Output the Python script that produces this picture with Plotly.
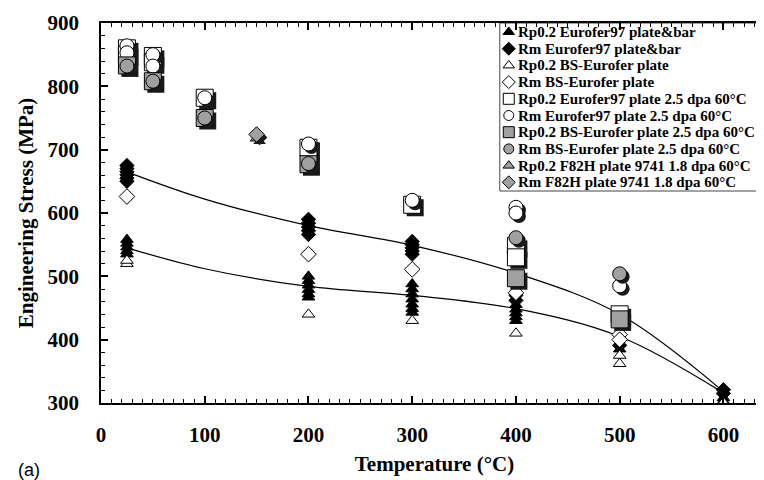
import plotly.graph_objects as go

# Rp0.2 / Rm, Eurofer97 plate&bar (unirradiated)
rp_ef97_t = [25, 25, 25, 25, 25, 200, 200, 200, 200, 200, 200,
             300, 300, 300, 300, 300, 300, 300, 400, 400, 400, 400, 400,
             500, 600, 600]
rp_ef97_s = [558, 552, 546, 540, 535, 500, 493, 486, 479, 472, 467,
             488, 480, 472, 464, 456, 449, 443, 455, 448, 442, 436, 430,
             385, 308, 303]
rm_ef97_t = [25, 25, 25, 25, 25, 25, 200, 200, 200, 200, 200,
             300, 300, 300, 300, 300, 400, 400, 500, 600, 600]
rm_ef97_s = [675, 670, 665, 660, 655, 650, 590, 584, 578, 572, 566,
             555, 550, 545, 540, 535, 470, 462, 391, 321, 315]

# BS-Eurofer plate (unirradiated)
rp_bs_t = [25, 25, 200, 300, 400, 500, 500, 600]
rp_bs_s = [520, 525, 440, 430, 410, 375, 362, 301]
rm_bs_t = [25, 200, 300, 400, 500, 500]
rm_bs_s = [626, 535, 511, 474, 408, 400]

# irradiated 2.5 dpa 60°C
rp_ef97_irr_t = [25, 25, 50, 50, 100, 200, 300, 400, 400, 500]
rp_ef97_irr_s = [860, 850, 848, 838, 782, 703, 613, 548, 530, 440]
rm_ef97_irr_t = [25, 25, 50, 50, 100, 200, 300, 400, 400, 500]
rm_ef97_irr_s = [864, 853, 850, 832, 782, 709, 620, 609, 600, 485]
rp_bs_irr_t = [25, 50, 100, 200, 400, 500]
rp_bs_irr_s = [833, 808, 750, 677, 497, 432]
rm_bs_irr_t = [25, 50, 100, 200, 400, 500]
rm_bs_irr_s = [832, 808, 750, 678, 561, 504]

# F82H plate 9741 1.8 dpa 60°C
rp_f82h_t = [150]
rp_f82h_s = [718]
rm_f82h_t = [150]
rm_f82h_s = [724]

# trend lines
trend_t = [25, 100, 200, 300, 400, 500, 600]
trend_rm = [665, 622, 580, 549, 505, 440, 318]
trend_rp = [545, 512, 484, 470, 449, 405, 316]

GRAY = "#a0a0a0"
SERIF = "Liberation Serif"

# name, x, y, symbol, fill, size, drop shadow
series = [
    ("Rp0.2 Eurofer97 plate&bar", rp_ef97_t, rp_ef97_s, "triangle-up", "black", 11, False),
    ("Rm Eurofer97 plate&bar", rm_ef97_t, rm_ef97_s, "diamond", "black", 11, False),
    ("Rp0.2 BS-Eurofer plate", rp_bs_t, rp_bs_s, "triangle-up", "white", 11, False),
    ("Rm BS-Eurofer plate", rm_bs_t, rm_bs_s, "diamond", "white", 12, False),
    ("Rp0.2 Eurofer97 plate 2.5 dpa 60°C", rp_ef97_irr_t, rp_ef97_irr_s, "square", "white", 17, True),
    ("Rm Eurofer97 plate 2.5 dpa 60°C", rm_ef97_irr_t, rm_ef97_irr_s, "circle", "white", 14, True),
    ("Rp0.2 BS-Eurofer plate 2.5 dpa 60°C", rp_bs_irr_t, rp_bs_irr_s, "square", GRAY, 17, True),
    ("Rm BS-Eurofer plate 2.5 dpa 60°C", rm_bs_irr_t, rm_bs_irr_s, "circle", GRAY, 14, True),
    ("Rp0.2 F82H plate 9741 1.8 dpa 60°C", rp_f82h_t, rp_f82h_s, "triangle-up", GRAY, 11, True),
    ("Rm F82H plate 9741 1.8 dpa 60°C", rm_f82h_t, rm_f82h_s, "diamond", GRAY, 12, True),
]

# plot area in pixels (for placing the hand-made legend box)
L, R, T, B = 93, 2, 15, 85
W, H = 764, 480
pw, ph = W - L - R, H - T - B
X_RANGE = [0, 643]
Y_RANGE = [300, 900]
# drop shadow offset: about 3 px right and down, in data units
SH_DX = 3 * (X_RANGE[1] - X_RANGE[0]) / pw
SH_DY = 3 * (Y_RANGE[1] - Y_RANGE[0]) / ph


def px(x):
    return (x - L) / pw


def py(y):
    return 1 - (y - T) / ph


fig = go.Figure()

for ys in (trend_rm, trend_rp):
    fig.add_trace(go.Scatter(
        x=trend_t, y=ys, mode="lines", showlegend=False,
        line=dict(color="black", width=1.2, shape="spline", smoothing=1),
        hoverinfo="skip",
    ))

for name, t, s, sym, fill, size, shadow in series:
    if shadow:
        fig.add_trace(go.Scatter(
            x=[v + SH_DX for v in t], y=[v - SH_DY for v in s], mode="markers",
            showlegend=False, hoverinfo="skip",
            marker=dict(symbol=sym, color="#1a1a1a", size=size, line=dict(width=0)),
        ))
    fig.add_trace(go.Scatter(
        x=t, y=s, mode="markers", name=name, showlegend=False,
        marker=dict(symbol=sym, color=fill, size=size,
                    line=dict(color="black", width=1)),
    ))

# legend: box, symbols on an overlay axis in paper fractions, text as annotations
leg_left, leg_right, leg_top, leg_bottom = 493, 752, 15, 183
row0, row_step = 24, 16.7
fig.add_shape(type="rect", xref="paper", yref="paper",
              x0=px(leg_left), x1=px(leg_right), y0=py(leg_bottom), y1=py(leg_top),
              line=dict(color="#444444", width=1), fillcolor="white", layer="below")
for i, (name, t, s, sym, fill, size, shadow) in enumerate(series):
    yy = py(row0 + i * row_step)
    fig.add_trace(go.Scatter(
        x=[px(502)], y=[yy], xaxis="x2", yaxis="y2", mode="markers",
        showlegend=False, cliponaxis=False, hoverinfo="skip",
        marker=dict(symbol=sym, color=fill, size=11 if sym == "square" else 10,
                    line=dict(color="black", width=1)),
    ))
    fig.add_annotation(
        text=name, xref="paper", yref="paper", x=px(509), y=yy,
        xanchor="left", yanchor="middle", showarrow=False,
        font=dict(family=SERIF, size=15, color="black", weight="bold"),
    )

axis_common = dict(
    showline=True, linecolor="black", linewidth=1.5, mirror="ticks",
    ticks="inside", ticklen=7, tickcolor="black", tickwidth=1.5,
    showgrid=False, zeroline=False,
    tickfont=dict(family=SERIF, size=21, color="black", weight="bold"),
)

fig.update_xaxes(
    range=X_RANGE, tick0=0, dtick=100, ticklabelstandoff=12,
    minor=dict(dtick=10, ticks="inside", ticklen=4, tickcolor="black", tickwidth=1),
    title=dict(text="Temperature (°C)", standoff=10,
               font=dict(family=SERIF, size=21, color="black", weight="bold")),
    **axis_common,
)
fig.update_yaxes(
    range=Y_RANGE, tick0=300, dtick=100, ticklabelstandoff=16,
    minor=dict(dtick=20, ticks="inside", ticklen=4, tickcolor="black", tickwidth=1),
    title=dict(text="Engineering Stress (MPa)", standoff=8,
               font=dict(family=SERIF, size=21, color="black", weight="bold")),
    **axis_common,
)

fig.add_annotation(
    text="(a)", xref="paper", yref="paper", x=px(8), y=py(462),
    xanchor="left", yanchor="middle", showarrow=False,
    font=dict(family="Liberation Sans", size=18, color="black"),
)

fig.update_layout(
    width=W, height=H,
    margin=dict(l=L, r=R, t=T, b=B),
    plot_bgcolor="white", paper_bgcolor="white",
    showlegend=False,
    xaxis2=dict(overlaying="x", range=[0, 1], visible=False),
    yaxis2=dict(overlaying="y", range=[0, 1], visible=False),
)

fig.write_html("out.html")
